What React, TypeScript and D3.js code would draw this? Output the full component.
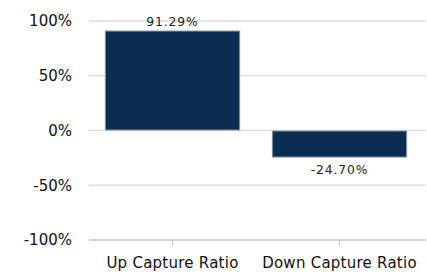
import React from "react";
import * as d3 from "d3";

const categories = ["Up Capture Ratio", "Down Capture Ratio"];
const values = [91.29, -24.7];
const yTicks = [-100, -50, 0, 50, 100];

const W = 427;
const H = 272;
const margin = { top: 21, right: 4, bottom: 32, left: 89 };

export default function App() {
  const x = d3
    .scaleBand<string>()
    .domain(categories)
    .range([margin.left, W - margin.right])
    .paddingInner(0.19)
    .paddingOuter(0.095);
  const y = d3
    .scaleLinear()
    .domain([-100, 100])
    .range([H - margin.bottom, margin.top]);
  const font = "'DejaVu Sans', Verdana, sans-serif";
  const bw = x.bandwidth();
  return (
    <svg
      width={W}
      height={H}
      style={{ position: "absolute", left: 0, top: 0, display: "block" }}
      fontFamily={font}
    >
      {yTicks.map((t) => (
        <g key={t}>
          <line
            x1={margin.left}
            x2={W - 1}
            y1={y(t)}
            y2={y(t)}
            stroke={t === -100 ? "#c6c6c6" : "#dedede"}
            strokeWidth={t === -100 ? 1.5 : 1.3}
          />
          <text
            x={72}
            y={y(t)}
            dy="0.36em"
            textAnchor="end"
            fontSize={15}
            fill="#111"
          >
            {`${t}%`}
          </text>
        </g>
      ))}
      {categories.map((c, i) => {
        const v = values[i];
        const x0 = x(c)!;
        const yTop = y(Math.max(0, v));
        const yBot = y(Math.min(0, v));
        const cx = x0 + bw / 2;
        return (
          <g key={c}>
            <rect
              x={x0 + 0.5}
              y={yTop + 0.5}
              width={bw - 1}
              height={yBot - yTop - 1}
              fill="#0c2d52"
              stroke="#8593a3"
              strokeWidth={1}
            />
            <text
              x={cx}
              y={v >= 0 ? yTop - 5 : yBot + 16}
              textAnchor="middle"
              fontSize={12.3}
              letterSpacing={0.9}
              fill="#222"
            >
              {`${v.toFixed(2)}%`}
            </text>
            <line
              x1={cx}
              x2={cx}
              y1={y(-100)}
              y2={y(-100) + 6}
              stroke="#c6c6c6"
              strokeWidth={1}
            />
            <text
              x={cx}
              y={H - 4}
              textAnchor="middle"
              fontSize={15}
              letterSpacing={0.25}
              fill="#111"
            >
              {c}
            </text>
          </g>
        );
      })}
    </svg>
  );
}
